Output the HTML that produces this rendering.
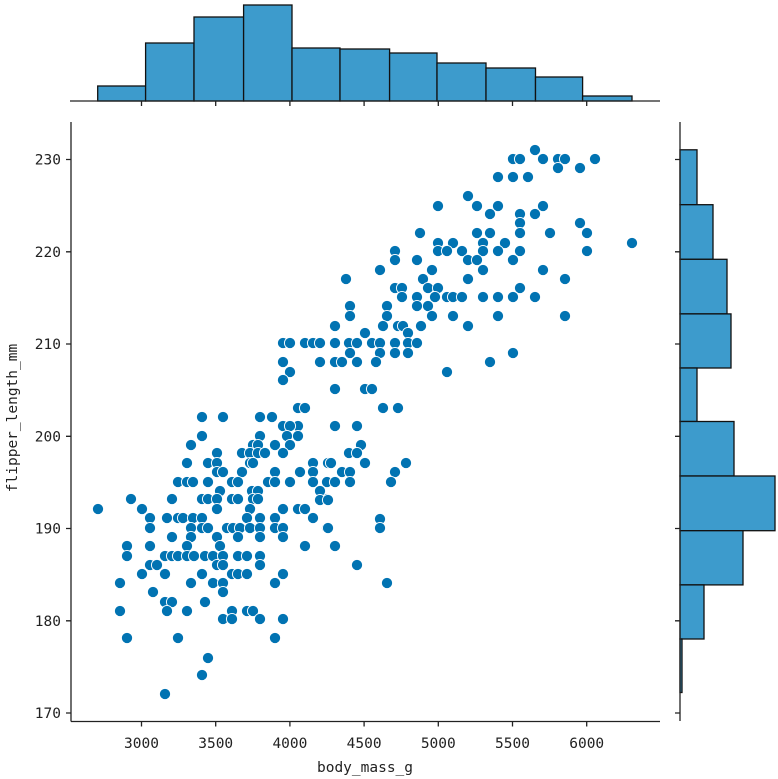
<!DOCTYPE html>
<html><head><meta charset="utf-8"><style>
html,body{margin:0;padding:0;background:#fff;}
svg{display:block;}
text{font-family:"DejaVu Sans Mono","Liberation Mono",monospace;font-size:14.5px;fill:#222;}
</style></head><body>
<svg width="778" height="779" viewBox="0 0 778 779" xmlns="http://www.w3.org/2000/svg">
<g fill="#3d9bcc" stroke="#111" stroke-width="1.3">
<rect x="97.7" y="86" width="47.9" height="15"/>
<rect x="145.6" y="43" width="48.4" height="58"/>
<rect x="194" y="17" width="49.6" height="84"/>
<rect x="243.6" y="5" width="48.4" height="96"/>
<rect x="292" y="48" width="48" height="53"/>
<rect x="340" y="49" width="49.6" height="52"/>
<rect x="389.6" y="53" width="47.4" height="48"/>
<rect x="437" y="63" width="49" height="38"/>
<rect x="486" y="68" width="49.5" height="33"/>
<rect x="535.5" y="77" width="47.1" height="24"/>
<rect x="582.6" y="96" width="49.4" height="5"/>
<rect x="680" y="149.8" width="17" height="54.9"/>
<rect x="680" y="204.7" width="33" height="54.6"/>
<rect x="680" y="259.3" width="47" height="54.6"/>
<rect x="680" y="313.9" width="51" height="54.1"/>
<rect x="680" y="368" width="17" height="53.5"/>
<rect x="680" y="421.5" width="54" height="54.5"/>
<rect x="680" y="476" width="95" height="54.7"/>
<rect x="680" y="530.7" width="63" height="54.2"/>
<rect x="680" y="584.9" width="24" height="54.1"/>
<rect x="680" y="639" width="2" height="53.5"/>
</g>
<g stroke="#222" stroke-width="1.3" fill="none">
<line x1="70" y1="101" x2="660" y2="101"/>
<line x1="680" y1="122" x2="680" y2="721"/>
<line x1="71" y1="122" x2="71" y2="721.5"/>
<line x1="71" y1="721.5" x2="660" y2="721.5"/>
<path d="M141.5 101v5M215.7 101v5M289.9 101v5M364.1 101v5M438.3 101v5M512.5 101v5M586.7 101v5"/>
<path d="M141.5 721.5v5M215.7 721.5v5M289.9 721.5v5M364.1 721.5v5M438.3 721.5v5M512.5 721.5v5M586.7 721.5v5"/>
<path d="M71 159.5h-5M71 251.8h-5M71 344h-5M71 436.3h-5M71 528.5h-5M71 620.8h-5M71 713h-5"/>
<path d="M680 159.5h-5M680 251.8h-5M680 344h-5M680 436.3h-5M680 528.5h-5M680 620.8h-5M680 713h-5"/>
</g>
<g text-anchor="middle">
<text x="141.5" y="748">3000</text><text x="215.7" y="748">3500</text><text x="289.9" y="748">4000</text><text x="364.1" y="748">4500</text><text x="438.3" y="748">5000</text><text x="512.5" y="748">5500</text><text x="586.7" y="748">6000</text>
<text x="365" y="772">body_mass_g</text>
<text transform="translate(17,418) rotate(-90)">flipper_length_mm</text>
</g>
<g text-anchor="end">
<text x="61" y="164.5">230</text><text x="61" y="256.8">220</text><text x="61" y="349">210</text><text x="61" y="441.3">200</text><text x="61" y="533.5">190</text><text x="61" y="625.8">180</text><text x="61" y="718">170</text>
</g>
<g id="pts" fill="#0173b2" stroke="#fff" stroke-width="0.9"></g>
</svg>
<script>
var P=[[202,417],[223,417],[260,417],[272,417],[298,408],[305,408],[283,426],[298,426],[290,426],[202,436],[260,436],[287,436],[298,436],[191,445],[253,445],[258,445],[275,445],[290,445],[217,453],[242,453],[250,453],[258,453],[265,453],[283,453],[187,463],[208,463],[217,463],[250,463],[253,463],[313,463],[328,463],[217,472],[223,472],[242,472],[275,472],[300,472],[313,472],[178,482],[187,482],[193,482],[208,482],[232,482],[238,482],[268,482],[275,482],[290,482],[313,482],[327,482],[220,491],[252,491],[258,491],[320,491],[131,499],[172,499],[202,499],[208,499],[217,499],[232,499],[238,499],[253,499],[258,499],[320,499],[327,499],[98,509],[142,509],[217,509],[250,509],[283,509],[298,509],[305,509],[150,518],[167,518],[178,518],[183,518],[193,518],[202,518],[247,518],[260,518],[275,518],[313,518],[150,528],[191,528],[202,528],[208,528],[227,528],[233,528],[240,528],[250,528],[260,528],[275,528],[283,528],[327,528],[172,537],[191,537],[217,537],[238,537],[260,537],[283,537],[127,546],[150,546],[187,546],[220,546],[305,546],[127,556],[165,556],[172,556],[178,556],[187,556],[194,556],[205,556],[213,556],[223,556],[238,556],[247,556],[260,556],[150,565],[157,565],[217,565],[223,565],[260,565],[142,574],[165,574],[202,574],[232,574],[238,574],[247,574],[283,574],[120,583],[191,583],[213,583],[223,583],[275,583],[153,592],[223,592],[165,602],[172,602],[205,602],[120,611],[167,611],[187,611],[232,611],[247,611],[253,611],[223,619],[232,619],[260,619],[283,619],[127,638],[178,638],[275,638],[208,658],[202,675],[165,694],
[535,150],[513,159],[520,159],[543,159],[558,159],[565,159],[595,159],[558,168],[580,168],[498,177],[513,177],[528,177],[468,196],[438,206],[477,206],[498,206],[543,206],[490,214],[520,214],[535,214],[520,223],[580,223],[420,233],[477,233],[490,233],[520,233],[550,233],[587,233],[438,243],[453,243],[483,243],[505,243],[632,243],[395,251],[438,251],[447,251],[462,251],[483,251],[498,251],[520,251],[587,251],[395,260],[417,260],[468,260],[477,260],[513,260],[380,270],[432,270],[483,270],[543,270],[346,279],[423,279],[468,279],[565,279],[395,288],[402,288],[428,288],[438,288],[520,288],[402,297],[417,297],[435,297],[447,297],[453,297],[462,297],[483,297],[498,297],[513,297],[535,297],[350,306],[387,306],[417,306],[428,306],[350,316],[387,316],[432,316],[453,316],[498,316],[565,316],[335,326],[383,326],[398,326],[403,326],[421,326],[468,326],[365,333],[408,333],[283,343],[290,343],[305,343],[313,343],[320,343],[335,343],[349,343],[357,343],[372,343],[380,343],[395,343],[408,343],[417,343],[350,353],[380,353],[395,353],[408,353],[513,353],[283,362],[320,362],[335,362],[342,362],[357,362],[376,362],[490,362],[290,372],[447,372],[283,380],[335,389],[365,389],[372,389],[383,408],[398,408],[335,426],[357,426],
[361,445],[349,453],[357,453],[331,463],[365,463],[406,463],[342,472],[350,472],[395,472],[335,482],[350,482],[391,482],[320,491],[320,500],[328,500],[305,509],[380,519],[380,528],[328,528],[305,546],[335,546],[357,565],[387,583]];
var g=document.getElementById('pts'),s='';
P.forEach(function(p){s+='<circle cx="'+p[0]+'" cy="'+p[1]+'" r="5.6"/>';});
g.innerHTML=s;
</script>
</body></html>
